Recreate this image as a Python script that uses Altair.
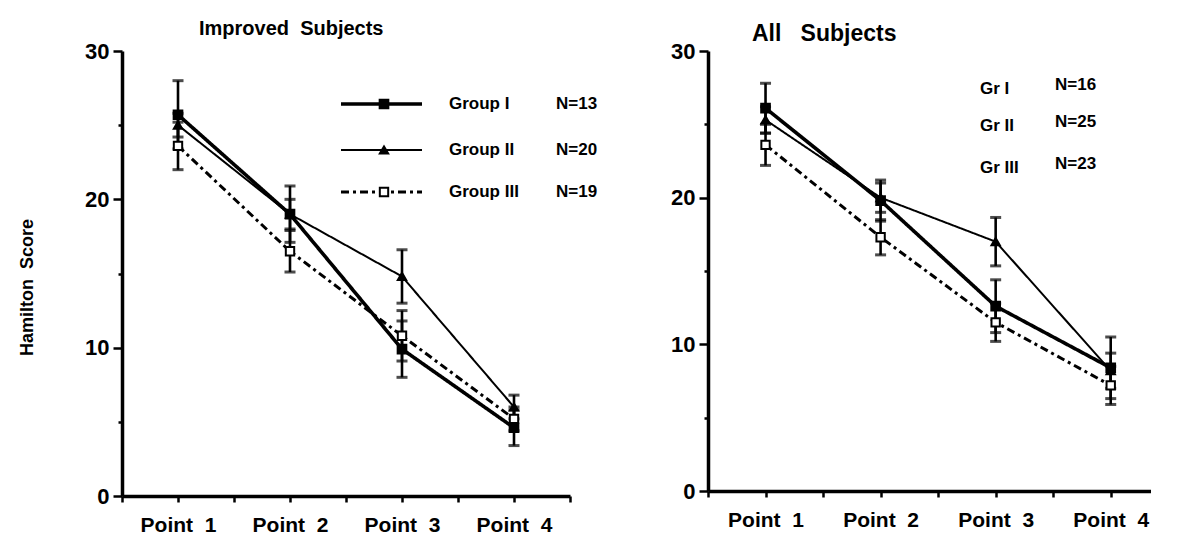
import altair as alt
import pandas as pd

FONT = "Liberation Sans"

points = [1, 2, 3, 4]
groups = ["Group I", "Group II", "Group III"]

# Improved subjects (mean, +/- error)
imp_g1 = [25.7, 19.0, 9.9, 4.6]
imp_g1_err = [2.3, 1.9, 1.9, 1.2]
imp_g2 = [25.0, 19.0, 14.8, 6.0]
imp_g2_err = [0.8, 1.0, 1.8, 0.8]
imp_g3 = [23.6, 16.5, 10.8, 5.2]
imp_g3_err = [1.6, 1.4, 1.7, 0.8]
imp_n = [13, 20, 19]

# All subjects
all_g1 = [26.1, 19.8, 12.6, 8.4]
all_g1_err = [1.7, 1.4, 1.8, 2.1]
all_g2 = [25.3, 20.0, 17.0, 8.2]
all_g2_err = [0.9, 1.0, 1.65, 1.2]
all_g3 = [23.6, 17.3, 11.5, 7.2]
all_g3_err = [1.4, 1.2, 1.3, 1.3]
all_n = [16, 25, 23]
all_short = ["Gr I", "Gr II", "Gr III"]

# line styles per group (order of `groups`)
STYLES = {
    "Group I": dict(strokeWidth=3.6, strokeDash=[1, 0]),
    "Group II": dict(strokeWidth=2.0, strokeDash=[1, 0]),
    "Group III": dict(strokeWidth=3.0, strokeDash=[8, 4, 3, 4]),
}
MARKERS = {
    "Group I": dict(shape="square", fill="black", size=75),
    "Group II": dict(shape="triangle-up", fill="black", size=70),
    "Group III": dict(shape="square", fill="white", size=70),
}


def make_df(vals_list, errs_list):
    rows = []
    for g, vals, errs in zip(groups, vals_list, errs_list):
        for p, v, e in zip(points, vals, errs):
            rows.append({"group": g, "point": p, "score": v, "lo": v - e, "hi": v + e})
    return pd.DataFrame(rows)


imp_df = make_df([imp_g1, imp_g2, imp_g3], [imp_g1_err, imp_g2_err, imp_g3_err])
all_df = make_df([all_g1, all_g2, all_g3], [all_g1_err, all_g2_err, all_g3_err])


def panel(df, xmax, width, height, title, tsize, tdx, toff, show_ytitle, legend_layers):
    x = alt.X(
        "point:Q",
        scale=alt.Scale(domain=[0.5, xmax], nice=False, zero=False),
        axis=alt.Axis(
            values=[v / 2 for v in range(1, 10)],
            labelExpr="datum.value % 1 === 0 ? 'Point\u00a0\u00a0' + datum.value : ''",
            title=None,
            grid=False,
            domainColor="black",
            domainWidth=3.5,
            tickColor="black",
            tickWidth=2.5,
            tickSize=6,
            labelFont=FONT,
            labelFontSize=21,
            labelFontWeight="bold",
            labelColor="black",
            labelPadding=12,
        ),
    )
    y = alt.Y(
        "score:Q",
        scale=alt.Scale(domain=[0, 30], nice=False),
        axis=alt.Axis(
            values=[0, 5, 10, 15, 20, 25, 30],
            labelExpr="datum.value % 10 === 0 ? datum.label : ''",
            title="Hamilton\u00a0\u00a0Score" if show_ytitle else None,
            titleFont=FONT,
            titleFontSize=18,
            titleFontWeight="bold",
            titleColor="black",
            titlePadding=48,
            titleY=236,
            grid=False,
            domainColor="black",
            domainWidth=3.5,
            tickColor="black",
            tickWidth=2.5,
            tickSize={"condition": {"test": "datum.value % 10 === 0", "value": 9}, "value": 4},
            labelFont=FONT,
            labelFontSize=22,
            labelFontWeight="bold",
            labelColor="black",
            labelPadding=4,
        ),
    )
    layers = []
    for g in groups:
        sub = alt.Chart(df).transform_filter(alt.datum.group == g)
        layers.append(sub.mark_line(color="black", **STYLES[g]).encode(x=x, y=y))
    base = alt.Chart(df)
    layers.append(base.mark_rule(color="black", strokeWidth=2.6).encode(x=x, y="lo:Q", y2="hi:Q"))
    layers.append(base.mark_tick(color="black", orient="horizontal", size=11, thickness=3).encode(x=x, y="lo:Q"))
    layers.append(base.mark_tick(color="black", orient="horizontal", size=11, thickness=3).encode(x=x, y="hi:Q"))
    for g in groups:
        sub = alt.Chart(df).transform_filter(alt.datum.group == g)
        layers.append(
            sub.mark_point(filled=True, stroke="black", strokeWidth=2, opacity=1, **MARKERS[g]).encode(x=x, y=y)
        )
    layers += legend_layers
    return alt.layer(*layers).properties(
        width=width,
        height=height,
        title=alt.TitleParams(
            title,
            anchor="start",
            frame="group",
            dx=tdx,
            offset=toff,
            font=FONT,
            fontSize=tsize,
            fontWeight="bold",
            color="black",
        ),
    )


# custom legend for the left panel
leg_df = pd.DataFrame({"group": groups, "n": [f"N={n}" for n in imp_n]})
left_legend = []
leg_y = [53, 99, 141]
for g, ly in zip(groups, leg_y):
    src = alt.Chart(leg_df).transform_filter(alt.datum.group == g)
    left_legend.append(
        src.mark_rule(color="black", **STYLES[g]).encode(
            x=alt.value(219), x2=alt.value(300), y=alt.value(ly)
        )
    )
    left_legend.append(
        src.mark_point(filled=True, stroke="black", strokeWidth=2, opacity=1, **MARKERS[g]).encode(
            x=alt.value(262), y=alt.value(ly)
        )
    )
    left_legend.append(
        src.mark_text(align="left", baseline="middle", font=FONT, fontSize=17, fontWeight="bold", color="black").encode(
            x=alt.value(327), y=alt.value(ly), text="group:N"
        )
    )
    left_legend.append(
        src.mark_text(align="left", baseline="middle", font=FONT, fontSize=17, fontWeight="bold", color="black").encode(
            x=alt.value(434), y=alt.value(ly), text="n:N"
        )
    )

# text-only legend for the right panel
rleg_df = pd.DataFrame({"label": all_short, "n": [f"N={n}" for n in all_n]})
right_legend = []
rleg_y = [38, 75, 117]
for lab, ly in zip(all_short, rleg_y):
    src = alt.Chart(rleg_df).transform_filter(alt.datum.label == lab)
    right_legend.append(
        src.mark_text(align="left", baseline="middle", font=FONT, fontSize=17, fontWeight="bold", color="black").encode(
            x=alt.value(272), y=alt.value(ly), text="label:N"
        )
    )
    right_legend.append(
        src.mark_text(align="left", baseline="middle", font=FONT, fontSize=17, fontWeight="bold", color="black").encode(
            x=alt.value(347), y=alt.value(ly - 4), text="n:N"
        )
    )

left = panel(imp_df, 4.5, 448, 445, "Improved\u00a0\u00a0Subjects", 20, 77, 1, True, left_legend)
right = panel(all_df, 4.35, 443, 440, "All\u00a0\u00a0\u00a0Subjects", 23, 44, -6, False, right_legend)

chart = (
    alt.hconcat(left, right, spacing=72)
    .resolve_scale(x="independent", y="independent")
    .properties(padding={"left": 10, "top": 11, "right": 0, "bottom": 0}, background="white")
    .configure_view(stroke=None)
)

chart.save("out.html", embed_options={"renderer": "svg", "actions": False})
